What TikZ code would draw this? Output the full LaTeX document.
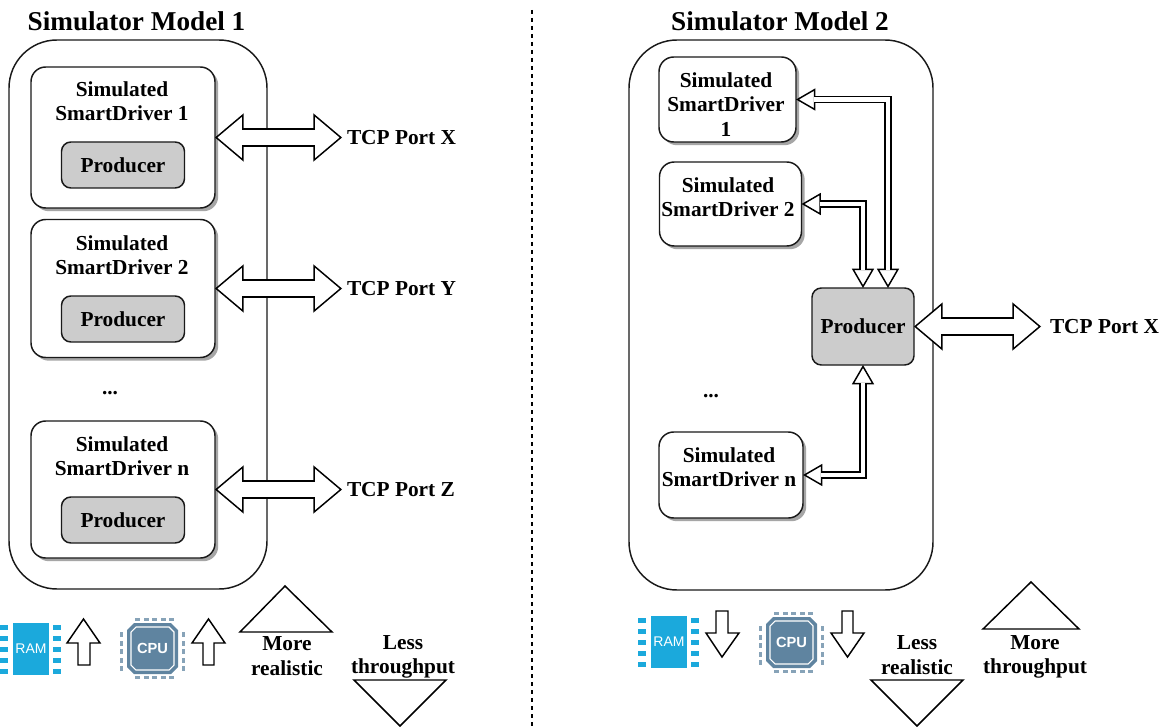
\documentclass[tikz,border=0pt]{standalone}
\usepackage{fontspec}
\setmainfont{Liberation Serif}
\newfontfamily\iconfont{Liberation Sans}
\usetikzlibrary{arrows.meta,shadows}
\newcommand\hollowlink[3]{\draw[#1] #3; \draw[#2] #3;}
\tikzset{
  size/.style 2 args={minimum width=#1*0.75pt, minimum height=#2*0.75pt, inner sep=0pt, outer sep=0pt},
  outerbox/.style={draw=black!90, line width=1.1pt, rounded corners=36pt, fill=white},
  simbox/.style={draw=black!90, line width=1.1pt, rounded corners=11pt, fill=white,
    drop shadow={shadow xshift=2.4pt, shadow yshift=-2.4pt, fill=black!35, opacity=1}},
  prodbox/.style={draw=black!90, line width=1.1pt, rounded corners=7pt, fill=black!20},
  txt/.style={font=\bfseries\fontsize{16}{18.3}\selectfont, align=center, inner sep=0pt},
  titletxt/.style={font=\bfseries\fontsize{20.4}{24}\selectfont, inner sep=0pt},
  porttxt/.style={font=\bfseries\fontsize{16}{18.3}\selectfont, inner sep=3.75pt, outer sep=0pt},
  bigarrow/.style={line width=1.1pt, double=white, double distance=11.5pt,
    {Triangle[open,fill=white,length=21.5pt,width=36pt,line width=1.1pt]}-{Triangle[open,fill=white,length=21.5pt,width=36pt,line width=1.1pt]}},
  bigcover/.style={white, line width=11.5pt, shorten >=20pt, shorten <=20pt},
  thinarrow/.style={line width=1.1pt, double=white, double distance=3.2pt,
    {Triangle[open,fill=white,length=14.5pt,width=16.5pt,line width=1.1pt]}-{Triangle[open,fill=white,length=14.5pt,width=16.5pt,line width=1.1pt]}},
  thincover/.style={white, line width=3.2pt, shorten >=13.5pt, shorten <=13.5pt},
  flat/.style={draw=black, line width=1.1pt, fill=white, line join=miter},
  ram/.pic={
    \fill[ramblue] (13,-1) rectangle (49,51);
    \foreach \py in {0,1,2,3,4}{
      \fill[ramblue] (0,{\py*11+1}) rectangle (8,{\py*11+6});
      \fill[ramblue] (53,{\py*11+1}) rectangle (61,{\py*11+6});
    }
    \node[text=white, inner sep=0pt, font=\iconfont\fontsize{10.5}{12}\selectfont] at (31,25) {RAM};
  },
  cpu/.pic={
    \fill[cpublue] (14,5) -- (51,5) -- (58,12) -- (58,49) -- (51,56) -- (14,56) -- (7,49) -- (7,12) -- cycle;
    \draw[white, line width=0.8pt] (16,9) -- (49,9) -- (54,14) -- (54,47) -- (49,52) -- (16,52) -- (11,47) -- (11,14) -- cycle;
    \foreach \pp in {0,1,2,3,4}{
      \fill[cpublue!75] ({\pp*8.5+15},0) rectangle ++(5,3);
      \fill[cpublue!75] ({\pp*8.5+15},58) rectangle ++(5,3);
      \fill[cpublue!75] (0,{\pp*8.5+14}) rectangle ++(3,5);
      \fill[cpublue!75] (62,{\pp*8.5+14}) rectangle ++(3,5);
    }
    \node[text=white, inner sep=0pt, font=\iconfont\bfseries\fontsize{11}{12}\selectfont] at (32.5,30.5) {CPU};
  },
}
\definecolor{ramblue}{HTML}{1BA9DC}
\definecolor{cpublue}{HTML}{5F84A0}
\begin{document}
\begin{tikzpicture}[x=0.75pt,y=-0.75pt]
\useasboundingbox (0,0) rectangle (1166,727);
\coordinate (divtop) at (532,10);
\coordinate (divbot) at (532,727);
\draw[dashed, line width=0.8pt] (divtop) -- (divbot);

% left model
\node[titletxt] (title1) at (136.5,21) {Simulator Model 1};
\node[outerbox, size={258}{549}] (model1) at (138,314.5) {};
\node[simbox, size={184}{141}] (s1) at (123,137.5) {};
\node[simbox, size={184}{138}] (s2) at (123,288.5) {};
\node[simbox, size={184}{137}] (sn) at (123,489.5) {};
\node[txt] (s1t) at (122,101) {Simulated\\SmartDriver 1};
\node[txt] (s2t) at (122,255) {Simulated\\SmartDriver 2};
\node[txt] (snt) at (122,456) {Simulated\\SmartDriver n};
\node[prodbox, size={123}{46}, txt] (p1) at (123,165) {Producer};
\node[prodbox, size={123}{46}, txt] (p2) at (123,319) {Producer};
\node[prodbox, size={123}{46}, txt] (pn) at (123,520) {Producer};
\node[txt] (dots1) at (110,393) {...};
\node[porttxt, anchor=west] (tx) at (342,137.5) {TCP Port X};
\node[porttxt, anchor=west] (ty) at (342,288.5) {TCP Port Y};
\node[porttxt, anchor=west] (tz) at (342,489.5) {TCP Port Z};
\hollowlink{bigarrow}{bigcover}{(s1.east) -- (tx.west)}
\hollowlink{bigarrow}{bigcover}{(s2.east) -- (ty.west)}
\hollowlink{bigarrow}{bigcover}{(sn.east) -- (tz.west)}

% right model
\node[titletxt] (title2) at (780,21) {Simulator Model 2};
\node[outerbox, size={304}{550}] (model2) at (781,315) {};
\node[simbox, size={137}{85}] (r1) at (727.5,99.5) {};
\node[simbox, size={142}{84}] (r2) at (730.5,204) {};
\node[simbox, size={144}{86}] (rn) at (731,475) {};
\node[txt] (r1t) at (726,104.5) {Simulated\\SmartDriver\\1};
\node[txt] (r2t) at (728,197.5) {Simulated\\SmartDriver 2};
\node[txt] (rnt) at (729,467) {Simulated\\SmartDriver n};
\node[prodbox, size={102}{77}, txt] (rp) at (863,326.5) {Producer};
\node[txt] (dots2) at (711,396) {...};
\node[porttxt, anchor=west, inner xsep=6.75pt] (rtx) at (1041,326.5) {TCP Port X};
\coordinate (rpin) at ([xshift=18.75pt]rp.north);
\hollowlink{thinarrow}{thincover}{(r1.east) -| (rpin)}
\hollowlink{thinarrow}{thincover}{(r2.east) -| (rp.north)}
\hollowlink{thinarrow}{thincover}{(rn.east) -| (rp.south)}
\hollowlink{bigarrow}{bigcover}{(rp.east) -- (rtx.west)}

% bottom left
\pic at (0,624) {ram};
\pic at (120,618) {cpu};
\draw[flat] (83.5,619) -- (100,643) -- (90,643) -- (90,665) -- (78,665) -- (78,643) -- (67,643) -- cycle;
\draw[flat] (208.5,619) -- (225,643) -- (214,643) -- (214,665) -- (203,665) -- (203,643) -- (192,643) -- cycle;
\draw[flat] (285,586) -- (332,632) -- (240,632) -- cycle;
\node[txt] (more1) at (287,656) {More\\realistic};
\node[txt] (less1) at (403,657) {Less\\throughput};
\draw[flat] (354,680) -- (446,680) -- (400,726) -- cycle;

% bottom right
\pic at (638,617) {ram};
\pic at (759,612) {cpu};
\draw[flat] (722,657) -- (739,633) -- (728,633) -- (728,611) -- (716,611) -- (716,633) -- (706,633) -- cycle;
\draw[flat] (847.5,657) -- (864,633) -- (853,633) -- (853,611) -- (842,611) -- (842,633) -- (831,633) -- cycle;
\node[txt] (less2) at (917,655) {Less\\realistic};
\draw[flat] (871,680) -- (963,680) -- (917,726) -- cycle;
\node[txt] (more2) at (1035,657) {More\\throughput};
\draw[flat] (1031,582) -- (1079,629) -- (983,629) -- cycle;
\end{tikzpicture}
\end{document}
